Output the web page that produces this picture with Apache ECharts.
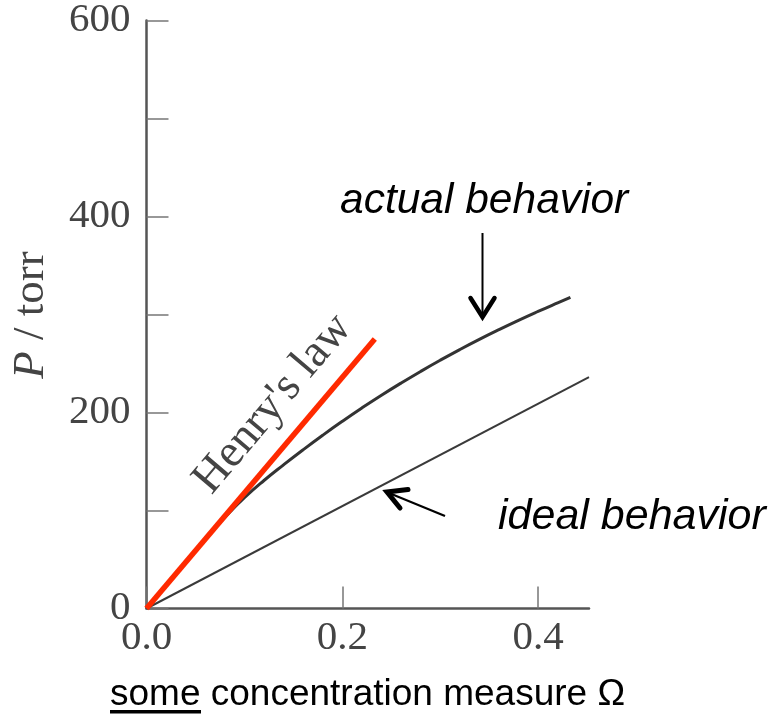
<!DOCTYPE html>
<html>
<head>
<meta charset="utf-8">
<script src="https://cdn.jsdelivr.net/npm/echarts@6/dist/echarts.min.js"></script>
<style>
html,body{margin:0;padding:0;background:#fff;}
#chart{width:771px;height:714px;}
</style>
</head>
<body>
<div id="chart"></div>
<script>
// ---- data ----
const xTickValues = [0, 0.2, 0.4];
const yLabelValues = [0, 200, 400, 600];
const henryX = [0, 0.2332];
const henryY = [0, 275];
const idealX = [0, 0.452];
const idealY = [0, 236];
const actualX = [0, 0.02, 0.04, 0.06, 0.07, 0.08, 0.10, 0.12, 0.14, 0.16, 0.18, 0.20, 0.22, 0.24, 0.26, 0.28, 0.30, 0.32, 0.34, 0.36, 0.38, 0.40, 0.42, 0.433];
const actualY = [0, 23.5, 47, 70.6, 82.2, 93, 113, 130.6, 146.6, 162, 176.8, 191, 204.6, 217.6, 230, 241.9, 253.3, 264.2, 274.6, 284.5, 294, 303.1, 311.9, 317.5];
const yAxisTitle = 'P / torr';
const xAxisTitleUnderlined = 'some';
const xAxisTitleRest = ' concentration measure Ω';
const henryLabel = "Henry's law";
const actualLabel = 'actual behavior';
const idealLabel = 'ideal behavior';

const zip = (xs, ys) => xs.map((x, i) => [x, ys[i]]);
const serif = "'Liberation Serif', 'Times New Roman', serif";
const sans = "'Liberation Sans', Arial, sans-serif";

const chart = echarts.init(document.getElementById('chart'));
chart.setOption({
  backgroundColor: '#fff',
  animation: false,
  grid: { left: 146.5, right: 182, top: 19, bottom: 105.5, containLabel: false },
  xAxis: {
    type: 'value', min: 0, max: 0.452,
    axisLine: { show: true, lineStyle: { color: '#555', width: 2.5 } },
    axisTick: { show: true, inside: true, length: 22, customValues: xTickValues, lineStyle: { color: '#777', width: 1.5 } },
    axisLabel: { customValues: xTickValues, formatter: v => Number(v).toFixed(1), fontFamily: serif, fontSize: 41, color: '#444', margin: 9 },
    splitLine: { show: false }
  },
  yAxis: {
    type: 'value', min: 0, max: 600, interval: 100,
    axisLine: { show: true, lineStyle: { color: '#555', width: 2.5 } },
    axisTick: { show: true, inside: true, length: 22, lineStyle: { color: '#777', width: 1.5 } },
    axisLabel: { customValues: yLabelValues, fontFamily: serif, fontSize: 41, color: '#444', margin: 16 },
    splitLine: { show: false }
  },
  series: [
    { type: 'line', data: zip(idealX, idealY), symbol: 'none', lineStyle: { color: '#3a3a3a', width: 2 }, z: 2 },
    { type: 'line', data: zip(actualX, actualY), symbol: 'none', smooth: 0.5, lineStyle: { color: '#333', width: 3 }, z: 3 },
    { type: 'line', data: zip(henryX, henryY), symbol: 'none', lineStyle: { color: '#ff2a00', width: 5.5 }, z: 4 }
  ],
  graphic: [
    { type: 'text', x: 31, y: 315, rotation: Math.PI / 2,
      style: { text: '{i|P}' + yAxisTitle.slice(1), align: 'center', verticalAlign: 'middle', font: '45px ' + serif, fill: '#444',
        rich: { i: { fontStyle: 'italic', fontFamily: serif, fontSize: 45, color: '#444' } } } },
    { type: 'text', x: 273, y: 404, rotation: 49.8 * Math.PI / 180,
      style: { text: henryLabel, align: 'center', verticalAlign: 'middle', font: '46px ' + serif, fill: '#444' } },
    { type: 'text', x: 340, y: 201,
      style: { text: actualLabel, align: 'left', verticalAlign: 'middle', font: 'italic 42.5px ' + sans, fill: '#000' } },
    { type: 'text', x: 498, y: 517,
      style: { text: idealLabel, align: 'left', verticalAlign: 'middle', font: 'italic 43px ' + sans, fill: '#000' } },
    { type: 'text', x: 110, y: 695,
      style: { text: xAxisTitleUnderlined + xAxisTitleRest, align: 'left', verticalAlign: 'middle', font: '37px ' + sans, fill: '#000' } },
    { type: 'rect', shape: { x: 110, y: 710, width: 91, height: 3.5 }, style: { fill: '#000' } },
    { type: 'polyline', shape: { points: [[482.5, 233], [482.5, 315]] }, style: { stroke: '#000', lineWidth: 2, fill: null } },
    { type: 'polyline', shape: { points: [[470.5, 298], [482.5, 317], [494.5, 298]] }, style: { stroke: '#000', lineWidth: 4.5, fill: null, lineJoin: 'miter', lineCap: 'round' } },
    { type: 'polyline', shape: { points: [[445, 516], [389, 493]] }, style: { stroke: '#000', lineWidth: 2.2, fill: null } },
    { type: 'polyline', shape: { points: [[408, 489.5], [387, 492], [400, 508]] }, style: { stroke: '#000', lineWidth: 5, fill: null, lineJoin: 'miter', lineCap: 'round' } }
  ]
});
</script>
</body>
</html>
